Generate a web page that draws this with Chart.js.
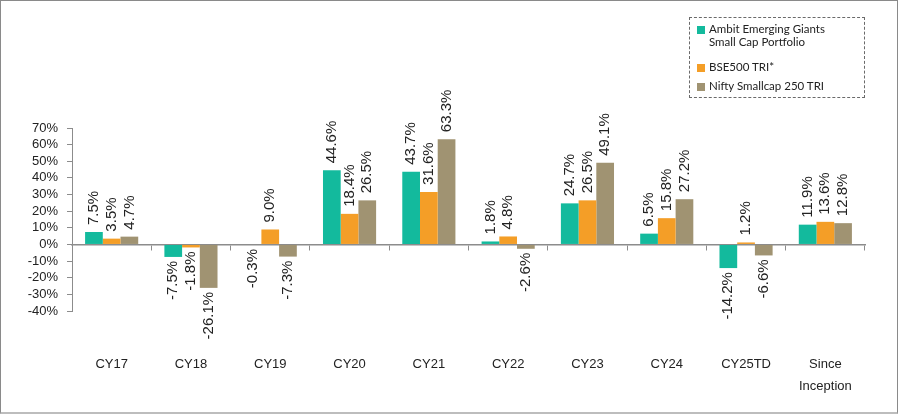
<!DOCTYPE html>
<html>
<head>
<meta charset="utf-8">
<script src="https://cdn.jsdelivr.net/npm/chart.js@4.4.1/dist/chart.umd.min.js"></script>
<style>
    html, body { margin: 0; padding: 0; background: #fff; }
    #marco {
        position: absolute; left: 0; top: 0; width: 898px; height: 414px;
        box-sizing: border-box;
        border-top: 1px solid #8a8a8a; border-left: 1px solid #8a8a8a;
        border-right: 1px solid #8a8a8a; border-bottom: 2px solid #bdbdbd;
        pointer-events: none;
    }
    #contenedor { position: absolute; left: 0; top: 0; width: 900px; height: 416px; }
    #leyenda {
        position: absolute; left: 689px; top: 17px; width: 176px; height: 81px;
        box-sizing: border-box; border: 1.5px dashed #6a6a6a;
        font-family: Lato, "Open Sans", sans-serif; font-size: 11.5px; color: #222;
    }
    .item { position: absolute; left: 19px; line-height: 12.5px; }
    .cuadro { position: absolute; left: 7px; width: 8px; height: 8px; }
</style>
</head>
<body>
<div id="contenedor"><canvas id="barChart" width="900" height="416"></canvas></div>
<div id="leyenda"></div>
<div id="marco"></div>
<script>
// datos
const categorias = ['CY17', 'CY18', 'CY19', 'CY20', 'CY21', 'CY22', 'CY23', 'CY24', 'CY25TD', ['Since', 'Inception']]
const nombres_series = ['Ambit Emerging Giants Small Cap Portfolio', 'BSE500 TRI*', 'Nifty Smallcap 250 TRI']
const ambit = [7.5, -7.5, -0.3, 44.6, 43.7, 1.8, 24.7, 6.5, -14.2, 11.9]
const bse500 = [3.5, -1.8, 9.0, 18.4, 31.6, 4.8, 26.5, 15.8, 1.2, 13.6]
const nifty_smallcap = [4.7, -26.1, -7.3, 26.5, 63.3, -2.6, 49.1, 27.2, -6.6, 12.8]
const eje_y_min = -40
const eje_y_max = 70
const eje_y_paso = 10

const colores = ['#13BA9D', '#F49E27', '#A09372']
const gris_eje = '#8c8c8c'

document.addEventListener('DOMContentLoaded', () => {
    dibujar_leyenda()
    dibujar_grafico()
})

// leyenda en html con borde punteado
function dibujar_leyenda() {
    const caja = document.getElementById('leyenda')
    const lineas = [['Ambit Emerging Giants', 'Small Cap Portfolio'], ['BSE500 TRI*'], ['Nifty Smallcap 250 TRI']]
    const tops = [5, 43, 62]
    lineas.forEach((texto, i) => {
        const cuadro = document.createElement('div')
        cuadro.className = 'cuadro'
        cuadro.style.top = (tops[i] + 3) + 'px'
        cuadro.style.background = colores[i]
        cuadro.title = nombres_series[i]
        caja.appendChild(cuadro)
        const item = document.createElement('div')
        item.className = 'item'
        item.style.top = tops[i] + 'px'
        item.innerHTML = texto.join('<br>')
        caja.appendChild(item)
    })
}

// etiquetas giradas en el extremo de cada barra
const etiquetas_barras = {
    id: 'etiquetas_barras',
    afterDatasetsDraw(chart) {
        const ctx = chart.ctx
        chart.data.datasets.forEach((ds, i) => {
            const meta = chart.getDatasetMeta(i)
            meta.data.forEach((barra, j) => {
                const valor = ds.data[j]
                const texto = valor.toFixed(1) + '%'
                ctx.save()
                ctx.translate(barra.x, barra.y)
                ctx.rotate(-Math.PI / 2)
                ctx.font = '15px "Liberation Sans", Arial, sans-serif'
                ctx.fillStyle = '#222'
                ctx.textBaseline = 'middle'
                if (valor >= 0) {
                    ctx.textAlign = 'left'
                    ctx.fillText(texto, 7, 0)
                } else {
                    ctx.textAlign = 'right'
                    ctx.fillText(texto, -4, 0)
                }
                ctx.restore()
            })
        })
    }
}

function dibujar_grafico() {
    const series = [ambit, bse500, nifty_smallcap]
    const config = {
        type: 'bar',
        data: {
            labels: categorias,
            datasets: series.map((datos, i) => ({
                label: nombres_series[i],
                data: datos,
                backgroundColor: colores[i],
                xAxisID: 'x',
                categoryPercentage: 0.67,
                barPercentage: 1.0
            }))
        },
        options: {
            responsive: false,
            animation: false,
            layout: { padding: { left: 0, right: 35, top: 128, bottom: 0 } },
            plugins: {
                legend: { display: false },
                tooltip: { enabled: false }
            },
            scales: {
                // linea del cero con marcas entre categorias
                x: {
                    type: 'category',
                    position: { y: 0 },
                    offset: true,
                    afterFit: (s) => { s.height = 0 },
                    border: { display: true, color: gris_eje, width: 1.5 },
                    grid: {
                        display: true, offset: true, drawOnChartArea: false,
                        drawTicks: true, tickLength: 5, tickColor: gris_eje, tickWidth: 1
                    },
                    ticks: { display: false }
                },
                // etiquetas de categoria abajo
                x2: {
                    type: 'category',
                    position: 'bottom',
                    offset: true,
                    afterFit: (s) => { s.height = 105 },
                    border: { display: false },
                    grid: { display: false, drawTicks: false },
                    ticks: {
                        padding: 43,
                        maxRotation: 0,
                        autoSkip: false,
                        color: '#222',
                        font: { family: '"Liberation Sans", Arial, sans-serif', size: 13, lineHeight: 1.65 }
                    }
                },
                y: {
                    min: eje_y_min,
                    max: eje_y_max,
                    afterFit: (s) => { s.width = 72 },
                    border: { display: true, color: gris_eje, width: 1 },
                    grid: {
                        display: true, drawOnChartArea: false,
                        drawTicks: true, tickLength: 5, tickColor: gris_eje
                    },
                    ticks: {
                        stepSize: eje_y_paso,
                        autoSkip: false,
                        padding: 9,
                        color: '#222',
                        font: { family: '"Liberation Sans", Arial, sans-serif', size: 13 },
                        callback: (v) => v + '%'
                    }
                }
            }
        },
        plugins: [etiquetas_barras]
    }
    const ctx = document.getElementById('barChart').getContext('2d')
    new Chart(ctx, config)
}
</script>
</body>
</html>
